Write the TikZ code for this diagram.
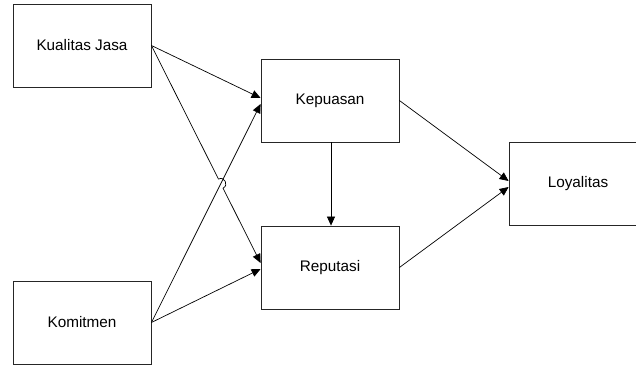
\documentclass[tikz,border=0pt]{standalone}
\usepackage{fontspec}
\setmainfont{Liberation Sans}
\usetikzlibrary{arrows.meta,calc}
\begin{document}
\begin{tikzpicture}[x=1pt,y=-1pt,
  box/.style={draw=black!85,line width=0.8pt,minimum width=138pt,minimum height=83pt,inner sep=0pt,font=\fontsize{15.3}{18}\selectfont},
  conn/.style={line width=0.7pt,-{Triangle[length=9pt,width=8pt]}}]
\useasboundingbox (0,0) rectangle (636,366);
\fill[white] (0,0) rectangle (636,366);
\node[box] (kj) at (82,45.5) {Kualitas Jasa};
\node[box] (km) at (82,322.5) {Komitmen};
\node[box] (kp) at (330,100.5) {Kepuasan};
\node[box] (rp) at (330,267.5) {Reputasi};
\node[box] (ly) at (578,184) {Loyalitas};
\coordinate (kp1) at ($(kp.west)+(0,-2.5)$);
\coordinate (kp2) at ($(kp.west)+(0,3.5)$);
\coordinate (rp1) at ($(rp.west)+(0,-4.5)$);
\coordinate (rp2) at ($(rp.west)+(0,1.5)$);
\coordinate (ly1) at ($(ly.west)+(0,-3)$);
\coordinate (ly2) at ($(ly.west)+(0,3)$);
\coordinate (kpb) at ($(kp.south)+(1,0)$);
\coordinate (rpt) at ($(rp.north)+(1,0)$);
\coordinate (h1) at ($(kj.east)!0.614!(rp1)$);
\coordinate (h2) at ($(kj.east)!0.656!(rp1)$);
\draw[conn] (kj.east) -- (kp1);
\draw[conn] (km.east) -- (kp2);
\draw[conn] (km.east) -- (rp2);
\draw[conn] (kj.east) -- (h1) to[bend left=90,looseness=1.7] (h2) -- (rp1);
\draw[conn] (kpb) -- (rpt);
\draw[conn] (kp.east) -- (ly1);
\draw[conn] (rp.east) -- (ly2);
\end{tikzpicture}
\end{document}
